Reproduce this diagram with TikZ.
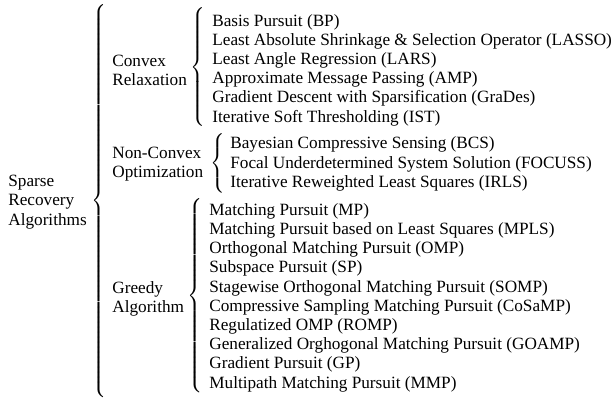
\documentclass[tikz,border=0pt]{standalone}
\usepackage{fontspec}
\usepackage{graphicx}
\setmainfont{Liberation Serif}
% brace glyph of a given total height
\newcommand{\tallbrace}[1]{\resizebox*{!}{#1}{$\delimitershortfall=-1pt
  \left\{\vcenter{\hbox{\rule{0pt}{#1}}}\right.$}}
\tikzset{
  grouptext/.style={anchor=west,align=left,inner sep=0pt,
    font=\fontsize{10}{11.17}\selectfont},
  bracenode/.style={anchor=west,inner sep=0pt}
}

\begin{document}
\begin{tikzpicture}[x=0.581pt,y=-0.581pt]
  \useasboundingbox (0,0) rectangle (616,399);
  % top level
  \node[grouptext] (root) at (8,202) {Sparse\\Recovery\\Algorithms};
  \node[bracenode] (brRoot) at (91,201) {\tallbrace{228.9pt}};

  % second level
  \node[grouptext] (convex) at (112,70.5) {Convex\\Relaxation};
  \node[grouptext] (nonconvex) at (112,164.5) {Non-Convex\\Optimization};
  \node[grouptext] (greedy) at (112,298.5) {Greedy\\Algorithm};
  \node[bracenode] (brConvex) at (190,67) {\tallbrace{69.4pt}};
  \node[bracenode] (brNonconvex) at (210,163.5) {\tallbrace{34.3pt}};
  \node[bracenode] (brGreedy) at (187,296) {\tallbrace{113pt}};

  % leaves
  \node[grouptext] (convexlist) at (212,70) {Basis Pursuit (BP)\\
    Least Absolute Shrinkage \& Selection Operator (LASSO)\\
    Least Angle Regression (LARS)\\
    Approximate Message Passing (AMP)\\
    Gradient Descent with Sparsification (GraDes)\\
    Iterative Soft Thresholding (IST)};
  \node[grouptext] (nonconvexlist) at (230,164) {Bayesian Compressive Sensing (BCS)\\
    Focal Underdetermined System Solution (FOCUSS)\\
    Iterative Reweighted Least Squares (IRLS)};
  \node[grouptext] (greedylist) at (209,297.5) {Matching Pursuit (MP)\\
    Matching Pursuit based on Least Squares (MPLS)\\
    Orthogonal Matching Pursuit (OMP)\\
    Subspace Pursuit (SP)\\
    Stagewise Orthogonal Matching Pursuit (SOMP)\\
    Compressive Sampling Matching Pursuit (CoSaMP)\\
    Regulatized OMP (ROMP)\\
    Generalized Orghogonal Matching Pursuit (GOAMP)\\
    Gradient Pursuit (GP)\\
    Multipath Matching Pursuit (MMP)};
\end{tikzpicture}
\end{document}
